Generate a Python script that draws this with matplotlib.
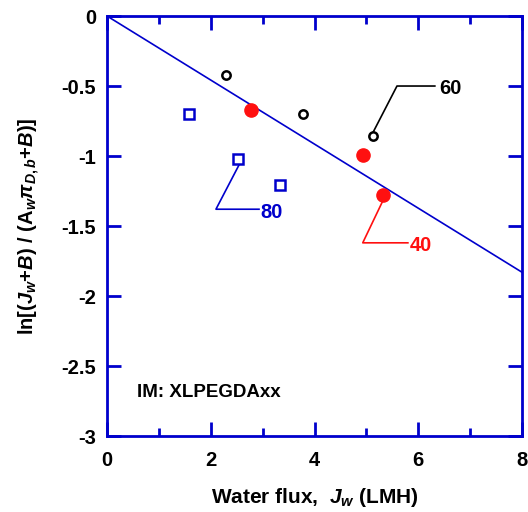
import matplotlib
matplotlib.use('Agg')
import matplotlib.pyplot as plt
import numpy as np

# data
jw_60 = [2.29, 3.78, 5.13]
lnr_60 = [-0.42, -0.70, -0.86]
jw_40 = [2.77, 4.94, 5.32]
lnr_40 = [-0.67, -0.99, -1.28]
jw_80 = [1.59, 2.52, 3.33]
lnr_80 = [-0.70, -1.02, -1.21]
fit_x = [0, 8]
fit_y = [0, -1.83]

blue = '#0000cc'
red = '#ff1010'

plt.rcParams['font.family'] = ['Liberation Sans', 'DejaVu Sans']
plt.rcParams['font.weight'] = 'bold'
plt.rcParams['mathtext.fontset'] = 'custom'
plt.rcParams['mathtext.rm'] = 'Liberation Sans:bold'
plt.rcParams['mathtext.it'] = 'Liberation Sans:bold:italic'
plt.rcParams['mathtext.bf'] = 'Liberation Sans:bold'

fig = plt.figure(figsize=(5.28, 5.12), dpi=100)
ax = fig.add_axes([0.2027, 0.1484, 0.7859, 0.8203])

ax.plot(fit_x, fit_y, color=blue, lw=1.2, zorder=2)
ax.plot(jw_60, lnr_60, 'o', ls='none', mfc='white', mec='black', ms=6, mew=1.8, zorder=3)
ax.plot(jw_40, lnr_40, 'o', ls='none', mfc=red, mec=red, ms=9.5, zorder=3)
ax.plot(jw_80, lnr_80, 's', ls='none', mfc='white', mec=blue, ms=7.5, mew=1.8, zorder=3)

# leader lines + labels
ax.plot([5.13, 5.59, 6.32], [-0.83, -0.50, -0.50], color='black', lw=1.2)
ax.text(6.40, -0.52, '60', color='black', fontsize=14.5, fontweight='bold', va='center')
ax.plot([2.55, 2.10, 2.93], [-1.06, -1.38, -1.38], color=blue, lw=1.2)
ax.text(2.95, -1.40, '80', color=blue, fontsize=14.5, fontweight='bold', va='center')
ax.plot([5.33, 4.93, 5.80], [-1.31, -1.62, -1.62], color=red, lw=1.2)
ax.text(5.84, -1.64, '40', color=red, fontsize=14.5, fontweight='bold', va='center')

ax.text(0.58, -2.69, 'IM: XLPEGDAxx', fontsize=13.5, fontweight='bold', va='center')

ax.set_xlim(0, 8)
ax.set_ylim(-3, 0)
ax.set_xticks([0, 2, 4, 6, 8])
ax.set_xticks([1, 3, 5, 7], minor=True)
ax.set_yticks(np.arange(-3, 0.01, 0.5))
ax.set_yticklabels(['-3', '-2.5', '-2', '-1.5', '-1', '-0.5', '0'])

for s in ax.spines.values():
    s.set_color(blue)
    s.set_linewidth(2)
ax.tick_params(which='both', direction='in', color=blue, top=True, right=True,
               labelsize=14.5, labelcolor='black', width=2)
ax.tick_params(which='major', length=10)
ax.tick_params(which='minor', length=6)
ax.tick_params(axis='x', which='major', pad=11)
ax.tick_params(axis='y', which='major', pad=8)
for lab in ax.get_xticklabels() + ax.get_yticklabels():
    lab.set_fontweight('bold')

ax.set_xlabel(r'Water flux,  $J_w$ (LMH)', fontsize=15, fontweight='bold', labelpad=11)
ax.set_ylabel(r'ln[($J_w$+$B$) / (A$_w$$\pi_{D,b}$+$B$)]', fontsize=14.5, fontweight='bold', labelpad=14)

fig.savefig('out.png', dpi=100)
